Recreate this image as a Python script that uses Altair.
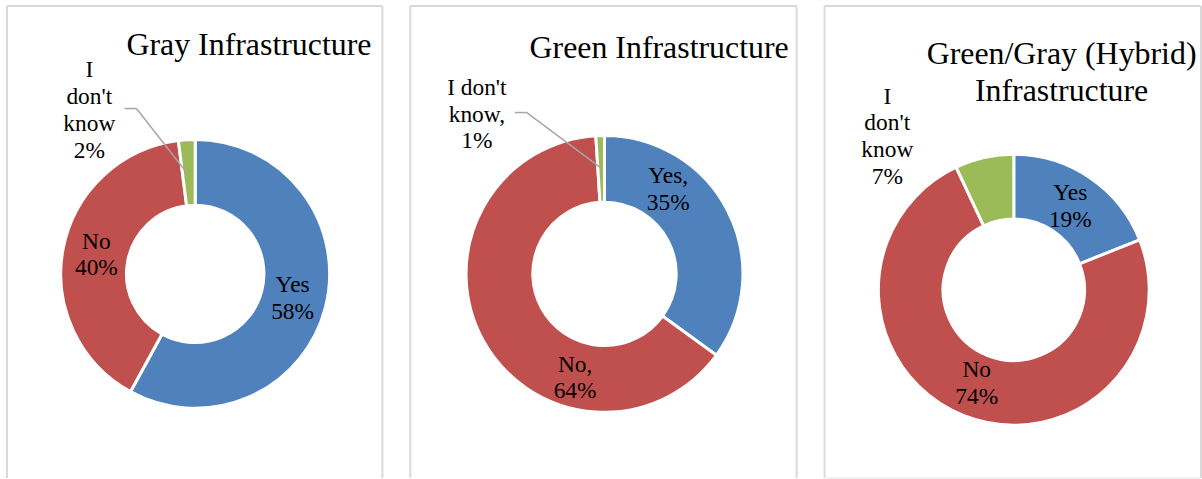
import altair as alt
import pandas as pd

# ---------------- data ----------------
categories = ["Yes", "No", "I don't know"]
colors = ["#4F81BD", "#C0504D", "#9BBB59"]

panel_titles = [
    ["Gray Infrastructure"],
    ["Green Infrastructure"],
    ["Green/Gray (Hybrid)", "Infrastructure"],
]

gray_values = [58, 40, 2]
green_values = [35, 64, 1]
hybrid_values = [19, 74, 7]

gray_labels = ["Yes\n58%", "No\n40%", "I\ndon't\nknow\n2%"]
green_labels = ["Yes,\n35%", "No,\n64%", "I don't\nknow,\n1%"]
hybrid_labels = ["Yes\n19%", "No\n74%", "I\ndon't\nknow\n7%"]

FONT = "Liberation Serif"
LABEL_SIZE = 23.5
LABEL_LH = 27
TWO_PI = 6.283185307179586
BORDER = "#D9D9D9"

# ---------------- layout (pixels, per panel) ----------------
layouts = [
    dict(W=377, H=474, cx=189, cy=269, ro=135, ri=69, tx=366, ty=49, talign="right",
         offsets=[(0, 0), (0, 0), (-100, -63)],
         leader=[(118, 103, 130, 103), (130, 103, 181, 168)], bottom=False),
    dict(W=388, H=474, cx=195, cy=269, ro=139, ri=72, tx=380, ty=52, talign="right",
         offsets=[(-26, -39), (59, 56), (-125, -59)],
         leader=[(105, 107, 117, 107), (117, 107, 192, 163)], bottom=False),
    dict(W=378, H=474, cx=190, cy=285, ro=136, ri=71, tx=238, ty=58, talign="center",
         offsets=[(0, 0), (0, 0), (-105, -55)],
         leader=[], bottom=True),
]


def make_panel(title_lines, values, labels, L):
    df = pd.DataFrame({
        "category": categories,
        "value": values,
        "order": list(range(len(categories))),
        "label": labels,
    })
    base = (
        alt.Chart(df)
        .transform_joinaggregate(total="sum(value)")
        .transform_window(cum="sum(value)", sort=[alt.SortField("order")])
        .transform_calculate(
            start="(datum.cum - datum.value) / datum.total",
            end="datum.cum / datum.total",
            mid="(datum.cum - datum.value / 2) / datum.total",
        )
    )
    tscale = alt.Scale(domain=[0, 1], range=[0, TWO_PI])
    W, H = L["W"], L["H"]

    title_df = pd.DataFrame({"t": ["\n".join(title_lines)]})
    frame = alt.Chart(title_df)

    # panel frame (left, top, right; bottom only where visible)
    edges = [(0, 0, 0, H), (0, 0, W, 0), (W, 0, W, H)]
    layers = []
    for (x1, y1, x2, y2) in edges:
        layers.append(
            frame.mark_rule(color=BORDER, strokeWidth=2)
            .encode(x=alt.value(x1), y=alt.value(y1), x2=alt.value(x2), y2=alt.value(y2))
        )
    if L["bottom"]:
        layers.append(
            frame.mark_rule(color="#EBEBEB", strokeWidth=1.5)
            .encode(x=alt.value(0), y=alt.value(H), x2=alt.value(W), y2=alt.value(H))
        )

    arc = base.mark_arc(
        innerRadius=L["ri"], outerRadius=L["ro"], stroke="white", strokeWidth=3
    ).encode(
        theta=alt.Theta("start:Q", scale=tscale),
        theta2="end:Q",
        color=alt.Color("category:N", scale=alt.Scale(domain=categories, range=colors), legend=None),
        x=alt.value(L["cx"]),
        y=alt.value(L["cy"]),
    )
    layers.append(arc)

    for (x1, y1, x2, y2) in L["leader"]:
        layers.append(
            base.transform_filter(alt.datum.order == 2)
            .mark_rule(color="#A6A6A6", strokeWidth=1.5)
            .encode(x=alt.value(x1), y=alt.value(y1), x2=alt.value(x2), y2=alt.value(y2))
        )

    for i, cat in enumerate(categories):
        dx, dy = L["offsets"][i]
        n_lines = labels[i].count("\n") + 1
        dy_block = dy - (n_lines - 1) * LABEL_LH / 2
        layers.append(
            base.transform_filter(alt.datum.order == i)
            .mark_text(
                radius=101, dx=dx, dy=dy_block, font=FONT, fontSize=LABEL_SIZE,
                lineHeight=LABEL_LH, lineBreak="\n", align="center", baseline="middle",
                color="black",
            )
            .encode(
                theta=alt.Theta("mid:Q", scale=tscale),
                text="label:N",
                x=alt.value(L["cx"]),
                y=alt.value(L["cy"]),
            )
        )

    layers.append(
        frame.mark_text(font=FONT, fontSize=32, lineHeight=37, lineBreak="\n",
                        align=L["talign"], baseline="alphabetic", color="black")
        .encode(text="t:N", x=alt.value(L["tx"]), y=alt.value(L["ty"]))
    )

    return alt.layer(*layers).properties(width=W, height=H)


panels = [
    make_panel(panel_titles[0], gray_values, gray_labels, layouts[0]),
    make_panel(panel_titles[1], green_values, green_labels, layouts[1]),
    make_panel(panel_titles[2], hybrid_values, hybrid_labels, layouts[2]),
]

chart = (
    alt.hconcat(*panels, spacing=26)
    .properties(padding={"left": 6, "top": 4, "right": 0, "bottom": 0}, background="white")
    .configure(font=FONT)
    .configure_text(font=FONT)
    .configure_view(stroke=None)
)

chart.save("out.html", embed_options={"renderer": "svg", "actions": False})
